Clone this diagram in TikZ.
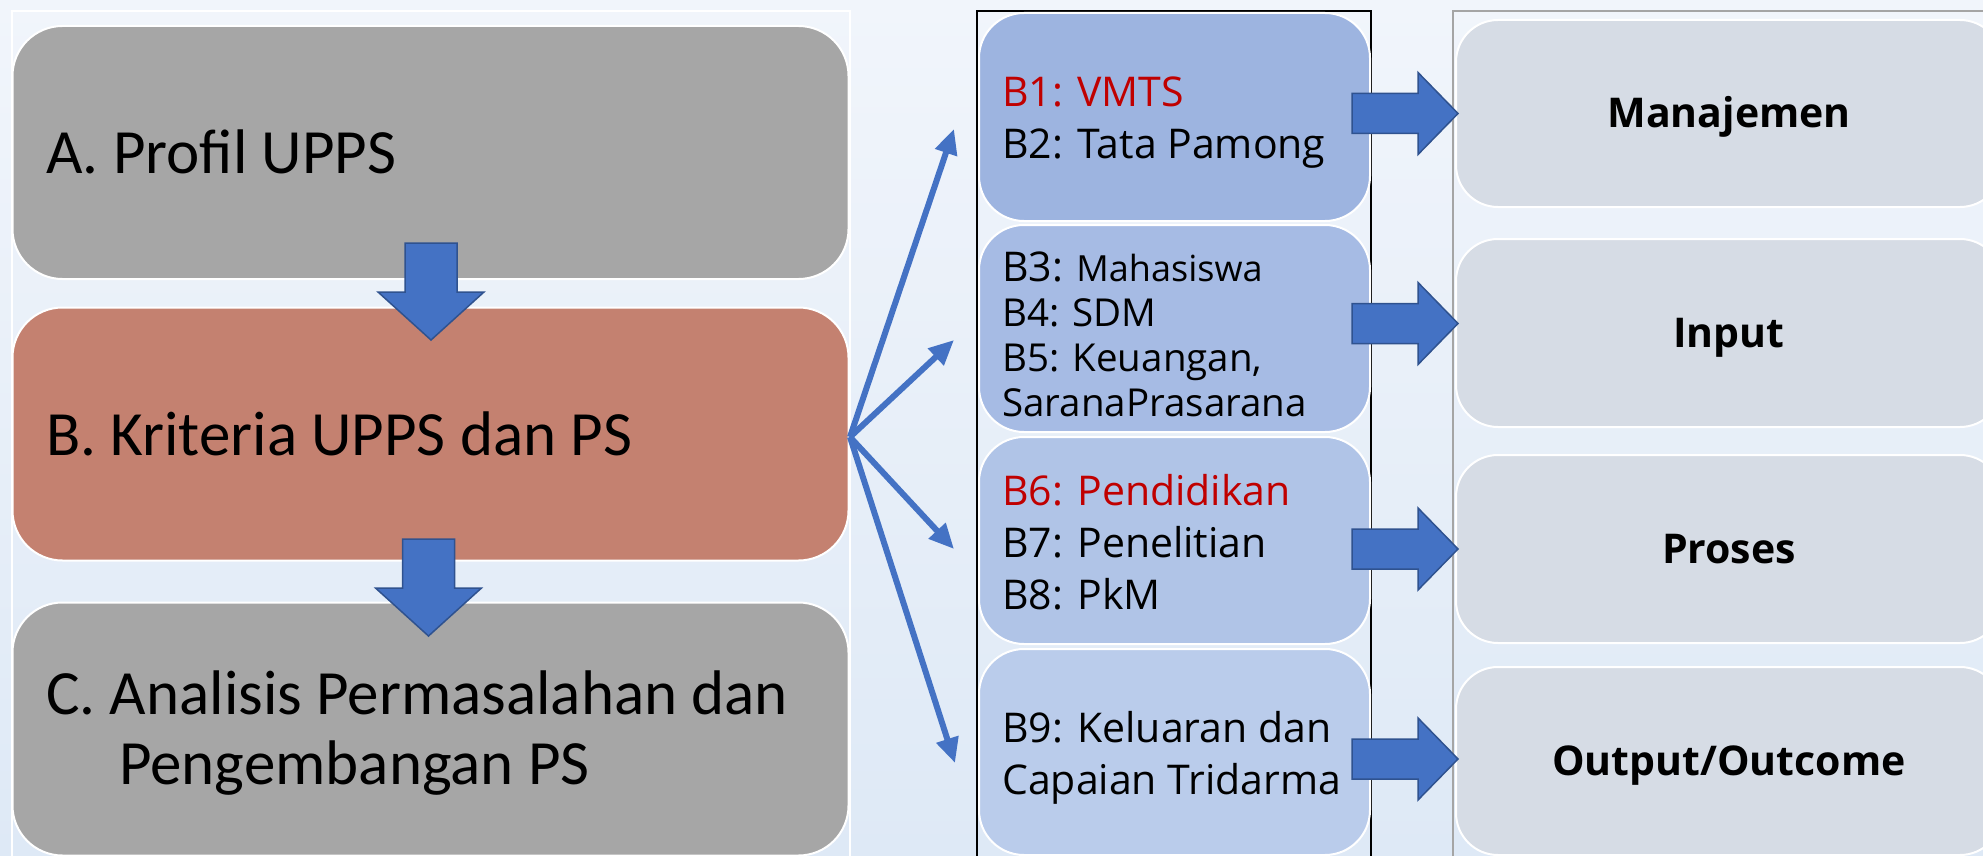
\documentclass[tikz,border=0pt]{standalone}
\usepackage{fontspec}
\setmainfont{Carlito}
\newfontfamily\midfont{Open Sans}
\usetikzlibrary{arrows.meta}
\definecolor{bgtop}{RGB}{241,245,251}
\definecolor{bgbot}{RGB}{222,233,246}
\definecolor{boxgray}{RGB}{166,166,166}
\definecolor{boxsalmon}{RGB}{196,129,112}
\definecolor{bA}{RGB}{157,180,224}
\definecolor{bB}{RGB}{166,187,228}
\definecolor{bC}{RGB}{176,196,231}
\definecolor{bD}{RGB}{186,204,235}
\definecolor{rbox}{RGB}{214,220,229}
\definecolor{arrblue}{RGB}{68,114,196}
\definecolor{arrdark}{RGB}{47,82,143}
\definecolor{redtxt}{RGB}{192,0,0}
\definecolor{framegray}{RGB}{165,165,165}
\tikzset{
  bigbox/.style={rectangle, rounded corners=50pt, draw=white, line width=2pt,
    minimum width=836pt, minimum height=253pt, inner sep=0pt},
  bigtext/.style={anchor=west, inner sep=0pt, align=left,
    font=\fontsize{63}{70}\selectfont},
  midbox/.style={rectangle, rounded corners=45pt, draw=white, line width=2pt,
    minimum width=391pt, minimum height=207pt, inner sep=0pt},
  midtext/.style={anchor=west, inner sep=0pt, align=left,
    font=\midfont\fontsize{41}{52}\selectfont},
  rightbox/.style={rectangle, rounded corners=42pt, draw=white, line width=2pt,
    fill=rbox, minimum width=546pt, minimum height=187pt, inner sep=0pt,
    text height=29pt, text depth=0pt,
    font=\midfont\bfseries\fontsize{41}{48}\selectfont},
  blockarrow/.style={fill=arrblue, draw=arrdark, line width=1.5pt, line join=miter},
  thinarrow/.style={draw=arrblue, line width=6pt,
    -{Triangle[length=25pt,width=22pt]}},
  darr/.pic={\path[blockarrow] (-26,0) -- (26,0) -- (26,49) -- (53,49) -- (0,97)
      -- (-53,49) -- (-26,49) -- cycle;},
  rarr/.pic={\path[blockarrow] (0,-20) -- (66,-20) -- (66,-41) -- (106,0)
      -- (66,41) -- (66,20) -- (0,20) -- cycle;}
}
\begin{document}
\begin{tikzpicture}[x=1pt,y=-1pt]
\useasboundingbox (0,0) rectangle (1983,856);
\clip (0,0) rectangle (1983,856);
\shade[top color=bgtop,bottom color=bgbot] (0,0) rectangle (1983,856);

% frames
\draw[white, line width=2pt] (12,880) -- (12,11) -- (850,11) -- (850,880);
\draw[black, line width=1.5pt] (977,880) -- (977,11) -- (1371,11) -- (1371,880);
\draw[framegray, line width=2pt] (1453,880) -- (1453,11) -- (2000,11);

% left column
\node[bigbox, fill=boxgray] (A) at (430.5,152.5) {};
\node[bigbox, fill=boxsalmon] (B) at (430.5,434) {};
\node[bigbox, fill=boxgray] (C) at (430.5,729) {};
\node[bigtext] (tA) at (46,152) {A. Profil UPPS};
\node[bigtext] (tB) at (46,434) {B. Kriteria UPPS dan PS};
\node[bigtext] (tC) at (46,733) {C. Analisis Permasalahan dan\\\hspace*{73pt}Pengembangan PS};

\pic at (431,243) {darr};
\pic at (428.5,539) {darr};

% middle column
\node[midbox, fill=bA, minimum height=208pt] (M1) at (1174.5,117) {};
\node[midbox, fill=bB] (M2) at (1174.5,328.5) {};
\node[midbox, fill=bC] (M3) at (1174.5,540.5) {};
\node[midbox, fill=bD, minimum height=206pt] (M4) at (1174.5,752) {};

\node[midtext] (tM1) at (1002,123) {\textcolor{redtxt}{B1: VMTS}\\B2: Tata Pamong};
\node[midtext, font=\midfont\fontsize{38.5}{45}\selectfont] (tM2) at (1002,334)
  {{\fontsize{41}{45}\selectfont B3:} {\fontsize{36}{45}\selectfont Mahasiswa}\\B4: SDM\\B5: Keuangan,\\SaranaPrasarana};
\node[midtext] (tM3) at (1002,542) {\textcolor{redtxt}{B6: Pendidikan}\\B7: Penelitian\\B8: PkM};
\node[midtext] (tM4) at (1002,758) {B9: Keluaran dan\\Capaian Tridarma};

% right column
\node[rightbox, minimum height=187pt] (R1) at (1729,113.5) {Manajemen};
\node[rightbox, minimum height=188pt] (R2) at (1729,333) {Input};
\node[rightbox, minimum height=188pt] (R3) at (1729,549) {Proses};
\node[rightbox, minimum height=188pt] (R4) at (1729,761) {Output/Outcome};

% block arrows middle -> right
\pic at (1352,113.5) {rarr};
\pic at (1352,323.5) {rarr};
\pic at (1352,549) {rarr};
\pic at (1352,759) {rarr};

% thin arrows from B
\coordinate (t1) at (954,129);
\coordinate (t2) at (954,340);
\coordinate (t3) at (954,549);
\coordinate (t4) at (955,763);
\coordinate (src) at (850,437);
\draw[thinarrow] (src) -- (t1);
\draw[thinarrow] (src) -- (t2);
\draw[thinarrow] (src) -- (t3);
\draw[thinarrow] (src) -- (t4);
\end{tikzpicture}
\end{document}
